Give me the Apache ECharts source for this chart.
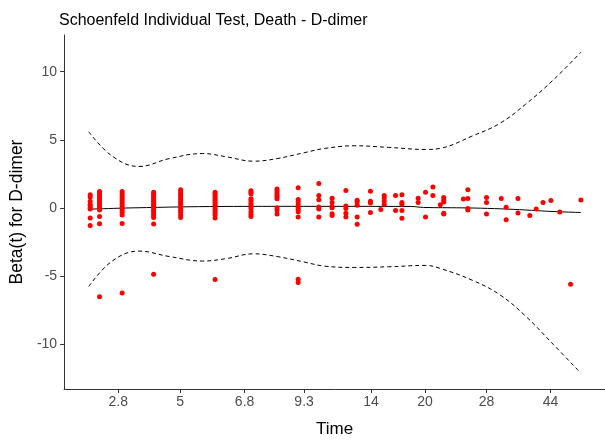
<!DOCTYPE html>
<html>
<head>
<meta charset="utf-8">
<script src="https://cdn.jsdelivr.net/npm/echarts@6/dist/echarts.min.js"></script>
<style>
html,body{margin:0;padding:0;background:#fff;}
#chart{width:605px;height:443px;}
</style>
</head>
<body>
<div id="chart"></div>
<script>
// x is the transformed (KM-scale) time; tick positions carry the time labels
var tickPos = [0.060, 0.186, 0.317, 0.438, 0.574, 0.684, 0.809, 0.939];
var tickLabels = ['2.8', '5', '6.8', '9.3', '14', '20', '28', '44'];
var yTicks = [-10, -5, 0, 5, 10];

// Schoenfeld residual points: [transformed time, beta(t)]
var residuals = [
  [0.003, 0.98], [0.003, 0.81], [0.003, 0.50], [0.003, 0.26], [0.003, 0.16], [0.003, 0.02], [0.003, -0.07], [0.003, -0.73], [0.003, -1.28],
  [0.022, 1.21], [0.022, 1.06], [0.022, 0.91], [0.022, 0.76], [0.022, 0.61], [0.022, 0.46], [0.022, 0.31], [0.022, 0.16], [0.022, 0.01], [0.022, -0.14], [0.022, -0.62], [0.022, -1.14], [0.022, -6.49],
  [0.068, 1.21], [0.068, 1.06], [0.068, 0.91], [0.068, 0.76], [0.068, 0.61], [0.068, 0.46], [0.068, 0.31], [0.068, 0.16], [0.068, 0.01], [0.068, -0.14], [0.068, -0.30], [0.068, -0.50], [0.068, -1.12], [0.068, -6.22],
  [0.132, 1.16], [0.132, 1.01], [0.132, 0.86], [0.132, 0.71], [0.132, 0.56], [0.132, 0.41], [0.132, 0.26], [0.132, 0.11], [0.132, -0.04], [0.132, -0.19], [0.132, -0.34], [0.132, -0.50], [0.132, -0.69], [0.132, -1.16], [0.132, -4.85],
  [0.187, 1.35], [0.187, 1.20], [0.187, 1.05], [0.187, 0.90], [0.187, 0.75], [0.187, 0.60], [0.187, 0.45], [0.187, 0.30], [0.187, 0.15], [0.187, 0.00], [0.187, -0.15], [0.187, -0.30], [0.187, -0.50], [0.187, -0.69],
  [0.257, 1.16], [0.257, 1.01], [0.257, 0.86], [0.257, 0.71], [0.257, 0.56], [0.257, 0.41], [0.257, 0.26], [0.257, 0.11], [0.257, -0.04], [0.257, -0.19], [0.257, -0.34], [0.257, -0.50], [0.257, -0.73], [0.257, -5.24],
  [0.330, 1.28], [0.330, 1.17], [0.330, 1.05], [0.330, 0.69], [0.330, 0.55], [0.330, 0.40], [0.330, 0.25], [0.330, 0.11], [0.330, -0.02], [0.330, -0.26], [0.330, -0.45], [0.330, -0.62],
  [0.383, 1.40], [0.383, 1.25], [0.383, 1.10], [0.383, 0.95], [0.383, 0.82], [0.383, 0.69], [0.383, 0.02], [0.383, -0.14], [0.383, -0.43],
  [0.426, 1.50], [0.426, 0.64], [0.426, 0.45], [0.426, 0.25], [0.426, 0.05], [0.426, -0.10], [0.426, -0.26], [0.426, -0.66], [0.426, -5.22], [0.426, -5.46],
  [0.468, 1.80], [0.468, 0.93], [0.468, 0.62], [0.468, 0.09], [0.468, -0.07], [0.468, -0.66],
  [0.495, 0.73], [0.495, 0.41], [0.495, 0.12], [0.495, 0.02], [0.495, -0.41], [0.495, -0.55],
  [0.523, 1.30], [0.523, 0.16], [0.523, -0.02], [0.523, -0.38], [0.523, -0.66],
  [0.546, 0.57], [0.546, 0.45], [0.546, 0.21], [0.546, -0.66], [0.546, -1.19],
  [0.573, 1.23], [0.573, 0.50], [0.573, 0.38], [0.573, -0.33],
  [0.594, -0.10],
  [0.601, 0.93], [0.601, 0.76], [0.601, 0.52], [0.601, 0.29],
  [0.624, 0.93], [0.624, -0.17],
  [0.637, 0.98], [0.637, 0.41], [0.637, 0.29], [0.637, -0.17], [0.637, -0.74],
  [0.670, 0.73], [0.670, 0.41],
  [0.685, 1.16], [0.685, -0.66],
  [0.700, 1.55], [0.700, 0.93],
  [0.715, 0.24],
  [0.722, 0.78], [0.722, 0.59], [0.722, 0.45], [0.722, -0.38], [0.722, -0.43],
  [0.762, 0.66],
  [0.771, 1.35], [0.771, 0.71], [0.771, -0.02], [0.771, -0.14],
  [0.809, 0.78], [0.809, 0.41], [0.809, -0.43],
  [0.839, 0.71],
  [0.849, 0.07], [0.849, -0.86],
  [0.873, 0.71], [0.873, -0.36],
  [0.897, -0.55],
  [0.910, -0.07],
  [0.924, 0.41],
  [0.940, 0.55],
  [0.958, -0.29],
  [0.980, -5.59],
  [1.001, 0.59]
];

// smoothed beta(t) fit
var fitLine = [
  [0.000, -0.08], [0.008, -0.07], [0.092, 0.02], [0.271, 0.12], [0.436, 0.13], [0.655, 0.12],
  [0.681, 0.05], [0.759, 0.02], [0.811, -0.02], [0.863, -0.09], [0.914, -0.19], [0.938, -0.24],
  [0.990, -0.31], [1.001, -0.32]
];

// upper and lower confidence bands
var upperBand = [
  [0.000, 5.60], [0.047, 3.83], [0.102, 3.05], [0.164, 3.63], [0.232, 4.00], [0.280, 3.76],
  [0.335, 3.44], [0.383, 3.63], [0.438, 4.06], [0.479, 4.37], [0.541, 4.57], [0.610, 4.45],
  [0.685, 4.30], [0.713, 4.37], [0.781, 5.30], [0.836, 6.21], [0.888, 7.60], [0.945, 9.40],
  [1.001, 11.43]
];
var lowerBand = [
  [0.000, -5.75], [0.047, -3.90], [0.102, -3.15], [0.164, -3.55], [0.232, -3.88], [0.280, -3.70],
  [0.335, -3.35], [0.383, -3.55], [0.438, -3.95], [0.479, -4.25], [0.541, -4.35], [0.610, -4.30],
  [0.685, -4.20], [0.713, -4.40], [0.781, -5.30], [0.836, -6.35], [0.888, -7.90], [0.945, -10.00],
  [1.001, -12.10]
];

var chart = echarts.init(document.getElementById('chart'), null, {renderer: 'canvas'});
var font = 'Liberation Sans, Arial, sans-serif';
chart.setOption({
  animation: false,
  backgroundColor: '#ffffff',
  title: {
    text: 'Schoenfeld Individual Test, Death - D-dimer',
    left: 54, top: 8,
    textStyle: {fontFamily: font, fontSize: 16, fontWeight: 'normal', color: '#000000'}
  },
  grid: {left: 56, top: 35, width: 552, height: 364, containLabel: false},
  xAxis: {
    type: 'value', min: -0.05, max: 1.05,
    name: 'Time', nameLocation: 'middle', nameGap: 32,
    nameTextStyle: {fontFamily: font, fontSize: 17, color: '#000000'},
    splitLine: {show: false},
    axisLine: {show: true, onZero: false, lineStyle: {color: '#333333', width: 1}},
    axisTick: {show: true, customValues: tickPos, length: 4, lineStyle: {color: '#333333'}},
    axisLabel: {
      customValues: tickPos, margin: 6,
      fontFamily: font, fontSize: 14, color: '#4D4D4D',
      formatter: function (v) { var i = tickPos.indexOf(v); return i >= 0 ? tickLabels[i] : ''; }
    }
  },
  yAxis: {
    type: 'value', min: -13.26, max: 12.69,
    name: 'Beta(t) for D-dimer', nameLocation: 'middle', nameGap: 32, nameRotate: 90,
    nameTextStyle: {fontFamily: font, fontSize: 17.5, color: '#000000'},
    splitLine: {show: false},
    axisLine: {show: true, onZero: false, lineStyle: {color: '#333333', width: 1}},
    axisTick: {show: true, customValues: yTicks, length: 4, lineStyle: {color: '#333333'}},
    axisLabel: {customValues: yTicks, margin: 7, fontFamily: font, fontSize: 14, color: '#4D4D4D'}
  },
  series: [
    {
      type: 'line', data: upperBand, smooth: 0.4, showSymbol: false, silent: true,
      lineStyle: {color: '#000000', width: 1, type: [4, 3]}, z: 2
    },
    {
      type: 'line', data: lowerBand, smooth: 0.4, showSymbol: false, silent: true,
      lineStyle: {color: '#000000', width: 1, type: [4, 3]}, z: 2
    },
    {
      type: 'line', data: fitLine, smooth: 0.4, showSymbol: false, silent: true,
      lineStyle: {color: '#000000', width: 1}, z: 3
    },
    {
      type: 'scatter', data: residuals, symbol: 'circle', symbolSize: 5,
      itemStyle: {color: '#FF0000', opacity: 1}, z: 4
    }
  ]
});
</script>
</body>
</html>
